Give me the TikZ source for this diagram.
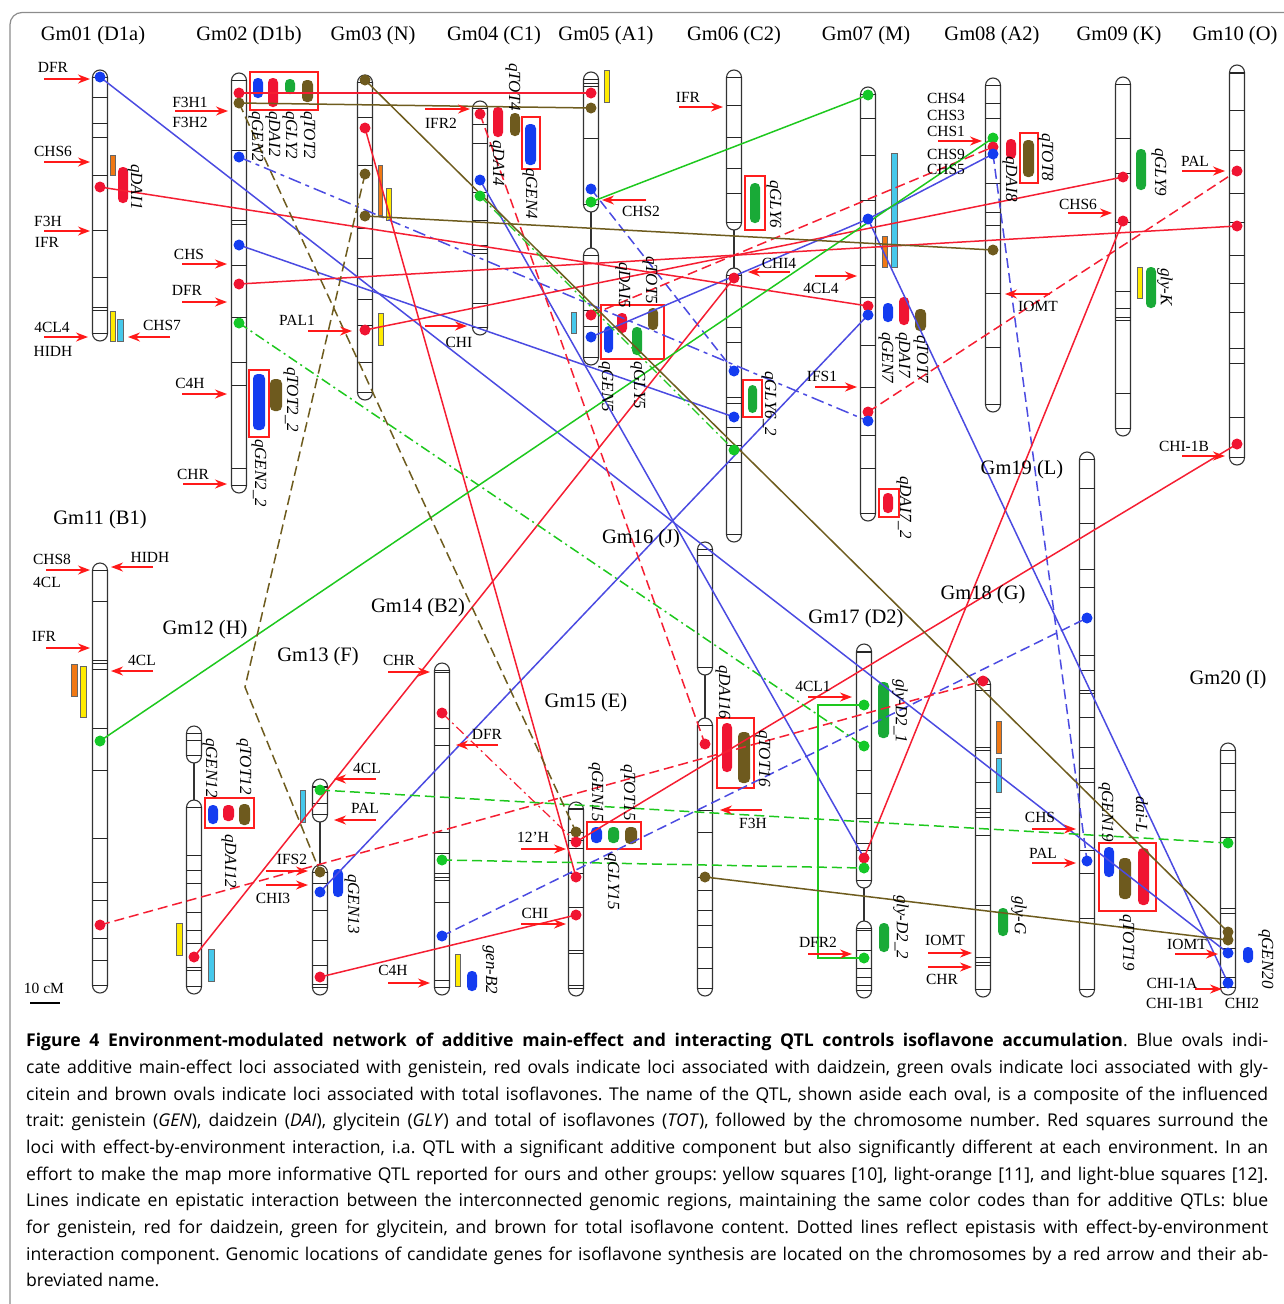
\documentclass[tikz,border=0pt]{standalone}
\usepackage{fontspec}
\setmainfont{Liberation Serif}
\newfontfamily\capfont{Open Sans}
\usetikzlibrary{arrows.meta}
\pgfdeclarelayer{chrl}
\pgfdeclarelayer{linel}
\pgfsetlayers{chrl,linel,main}
\definecolor{cblue}{RGB}{20,60,240}
\definecolor{cred}{RGB}{240,20,50}
\definecolor{cgreen}{RGB}{20,200,40}
\definecolor{ogreen}{RGB}{25,170,55}
\definecolor{cbrown}{RGB}{110,90,30}
\definecolor{lblue}{RGB}{75,75,225}
\definecolor{lred}{RGB}{245,30,50}
\definecolor{lgreen}{RGB}{30,200,30}
\definecolor{lbrown}{RGB}{110,92,30}
\definecolor{cyel}{RGB}{255,235,0}
\definecolor{corange}{RGB}{240,120,20}
\definecolor{ccyan}{RGB}{70,200,235}
\definecolor{arrred}{RGB}{255,25,25}
\definecolor{boxred}{RGB}{255,30,30}
\tikzset{
 chrline/.style={draw=black!80, line width=1.1pt, fill=white},
 tickl/.style={draw=black!85, line width=1pt},
 dot/.style={circle, inner sep=0pt, minimum size=11pt, draw=none},
 dB/.style={dot, fill=cblue}, dR/.style={dot, fill=cred},
 dG/.style={dot, fill=cgreen}, dN/.style={dot, fill=cbrown},
 conn/.style={line width=1.5pt},
 lB/.style={conn, draw=lblue}, lR/.style={conn, draw=lred},
 lG/.style={conn, draw=lgreen}, lN/.style={conn, draw=lbrown},
 dsh/.style={dash pattern=on 10pt off 5pt},
 dlong/.style={dash pattern=on 13pt off 5pt on 4pt off 5pt},
 ddot/.style={dash pattern=on 10pt off 4pt on 2pt off 4pt},
 garrow/.style={draw=arrred, line width=1.6pt, -{Stealth[length=12pt,width=9pt]}},
 glabel/.style={font=\fontsize{15.5}{15.5}\selectfont, inner sep=0pt},
 ttl/.style={font=\fontsize{20.5}{20.5}\selectfont, inner sep=0pt},
 qlabel/.style={font=\itshape\fontsize{17}{17}\selectfont, rotate=-90, anchor=west, inner sep=0pt},
 qbox/.style={draw=boxred, line width=2pt},
 litbar/.style={draw=black!60, line width=0.8pt},
}
\newcounter{lc}
\newcounter{ac}
\newcommand\chrbar[4]{%
  \draw[chrline, rounded corners=7.5pt] (#1-7.5,#2) rectangle (#1+7.5,#3);
  \draw[tickl] (#1-7.5,#2+7.5) -- (#1+7.5,#2+7.5);
  \draw[tickl] (#1-7.5,#3-7.5) -- (#1+7.5,#3-7.5);
  \foreach \t in {#4} {\draw[tickl] (#1-7.5,\t) -- (#1+7.5,\t);}
}
\newcommand\chrlink[3]{\draw[black!80, line width=1.1pt] (#1,#2) -- (#1,#3);}
\newcommand\qo[5]{\fill[#1, rounded corners=4.5pt] (#2,#3) rectangle (#4,#5);}
\newcommand\lbar[5]{\draw[litbar, fill=#1] (#2,#3) rectangle (#4,#5);}
\newcommand\rbox[4]{\draw[qbox] (#1,#2) rectangle (#3,#4);}
\newcommand\glab[3]{\stepcounter{lc}\node[glabel] (g\thelc) at (#1,#2) {#3};}
\newcommand\qlab[3]{\stepcounter{lc}\node[qlabel] (q\thelc) at (#1,#2) {#3};}
\newcommand\garr[3]{\stepcounter{ac}\coordinate (as\theac) at (#1,#2);\coordinate (ae\theac) at (#3,#2);\draw[garrow] (as\theac) -- (ae\theac);}
\begin{document}
\begin{tikzpicture}[x=1pt,y=-1pt]
\useasboundingbox (0,0) rectangle (1284,1304);
\begin{scope}
\clip (0,0) rectangle (1284,1304);
\draw[draw=black!45, line width=1.2pt, rounded corners=12pt] (10,12.5) rectangle (1320,1330);
\end{scope}

% ---------------- chromosomes, QTL ovals, boxes, bars ----------------
\begin{pgfonlayer}{chrl}
\chrbar{100}{70}{341}{97,123,137,175,230,277,307,310}
\chrbar{239}{73}{493}{150,220,224,265,317,362,385,468}
\chrbar{365}{75}{400}{117,165,228,258,299,325,362}
\chrbar{480}{101}{335}{124,143,192,220,245,249,253,303}
\chrbar{591}{72}{212}{79,83,86,138}
\chrlink{591}{212}{248}
\chrbar{591}{248}{365}{310,326}
\chrbar{734}{70}{230}{105,137,168,193,222}
\chrlink{734}{230}{268}
\chrbar{734}{268}{542}{327,342,397,403,427,445,462}
\chrbar{868}{87}{521}{118,155,200,265,297,345,387,435,468}
\chrbar{993}{78}{412}{103,118,183,212,225,293,347}
\chrbar{1123}{77}{436}{138,173,222,291,308,317,320,393}
\chrbar{1237}{65}{465}{73,110,150,193,222,255,283,312,348,363,417}
\chrbar{100}{563}{993}{601,660,663,669,728,770,838,882,900,938,960}
\chrbar{194}{726}{763}{740}
\chrlink{194}{763}{800}
\chrbar{194}{800}{994}{855,870,883,912,930,943,967,970}
\chrbar{320}{779}{822}{787,803}
\chrlink{320}{822}{865}
\chrbar{320}{865}{995}{883,910,940,965,984}
\chrbar{442}{663}{995}{672,728,745,832,853,873,877,880,902,980}
\chrbar{576}{802}{996}{808,832,840,848,873,907,950,953,985}
\chrbar{705}{542}{675}{555}
\chrlink{705}{675}{718}
\chrbar{705}{718}{996}{810,832,877,890,910,925,947,968}
\chrbar{864}{644}{888}{652,770,793,818,843,850}
\chrlink{864}{888}{921}
\chrbar{864}{921}{998}{930,950,968,977,985}
\chrbar{983}{677}{997}{690,747,750,782,808,812,817,835,905,957,962,965}
\chrbar{1087}{452}{997}{488,523,569,587,655,670,690,693,717,747,768,782,850,873,918}
\chrbar{1228}{743}{995}{763,790,812,837,908,913,948,977}
% literature bars
\lbar{corange}{110}{155}{115}{175}
\lbar{cyel}{110}{311}{115}{341}
\lbar{ccyan}{117}{319}{123}{341}
\lbar{corange}{378}{165}{382}{215}
\lbar{cyel}{386}{188}{391}{220}
\lbar{cyel}{378}{313}{383}{345}
\lbar{cyel}{604}{70}{609}{102}
\lbar{ccyan}{571}{312}{576}{333}
\lbar{ccyan}{891}{153}{897}{267}
\lbar{corange}{882}{236}{887}{267}
\lbar{cyel}{1137}{267}{1142}{298}
\lbar{corange}{71}{664}{77}{696}
\lbar{cyel}{80}{666}{86}{717}
\lbar{cyel}{176}{923}{182}{955}
\lbar{ccyan}{208}{949}{214}{981}
\lbar{ccyan}{300}{790}{305}{822}
\lbar{cyel}{455}{954}{460}{986}
\lbar{corange}{996}{721}{1001}{753}
\lbar{ccyan}{996}{758}{1001}{792}
% QTL ovals
\qo{cred}{118}{167}{128}{203}
\qo{cblue}{253}{78}{263}{98}
\qo{cred}{268}{78}{278}{107}
\qo{ogreen}{285}{79}{295}{94}
\qo{cbrown}{302}{80}{313}{102}
\rbox{250}{72}{318}{110}
\qo{cblue}{253}{374}{265}{430}
\qo{cbrown}{270}{379}{282}{411}
\rbox{249}{370}{269}{437}
\qo{cred}{493}{107}{503}{137}
\qo{cbrown}{510}{113}{520}{136}
\qo{cblue}{525}{124}{536}{165}
\rbox{522}{117}{540}{169}
\qo{cblue}{604}{326}{613}{353}
\qo{cred}{617}{313}{627}{333}
\qo{ogreen}{632}{327}{642}{355}
\qo{cbrown}{648}{308}{658}{330}
\rbox{601}{305}{664}{359}
\qo{ogreen}{750}{183}{760}{223}
\rbox{745}{176}{765}{230}
\qo{ogreen}{748}{385}{757}{413}
\rbox{743}{380}{762}{417}
\qo{cblue}{883}{303}{893}{322}
\qo{cred}{899}{297}{909}{325}
\qo{cbrown}{915}{309}{926}{331}
\qo{cred}{883}{493}{893}{513}
\rbox{879}{489}{899}{517}
\qo{cred}{1006}{139}{1016}{159}
\qo{cbrown}{1023}{140}{1034}{177}
\rbox{1020}{133}{1038}{183}
\qo{ogreen}{1136}{149}{1146}{190}
\qo{ogreen}{1146}{267}{1156}{308}
\qo{cblue}{208}{805}{218}{824}
\qo{cred}{223}{805}{234}{821}
\qo{cbrown}{239}{804}{250}{825}
\rbox{205}{798}{254}{828}
\qo{cblue}{333}{869}{343}{897}
\qo{cblue}{467}{971}{477}{991}
\qo{cblue}{591}{827}{602}{843}
\qo{ogreen}{608}{827}{619}{843}
\qo{cbrown}{625}{827}{637}{844}
\rbox{587}{822}{641}{849}
\qo{cred}{722}{723}{732}{772}
\qo{cbrown}{738}{732}{750}{783}
\rbox{717}{718}{754}{788}
\qo{ogreen}{878}{682}{889}{738}
\qo{ogreen}{879}{923}{889}{952}
\qo{ogreen}{998}{908}{1008}{936}
\qo{cblue}{1104}{847}{1114}{877}
\qo{cbrown}{1119}{858}{1131}{899}
\qo{cred}{1138}{848}{1149}{905}
\rbox{1099}{843}{1156}{911}
\qo{cblue}{1243}{947}{1253}{963}
\end{pgfonlayer}

% ---------------- dots ----------------
\node[dB] (d01b1) at (100,77) {};
\node[dR] (d01r1) at (100,187) {};
\node[dR] (d02r1) at (239,93) {};
\node[dN] (d02n1) at (239,103) {};
\node[dB] (d02b1) at (239,157) {};
\node[dB] (d02b2) at (239,245) {};
\node[dR] (d02r2) at (239,284) {};
\node[dG] (d02g1) at (239,323) {};
\node[dN] (d03n1) at (365,80) {};
\node[dR] (d03r1) at (365,128) {};
\node[dN] (d03n2) at (365,174) {};
\node[dN] (d03n3) at (365,216) {};
\node[dR] (d03r2) at (365,330) {};
\node[dR] (d04r1) at (480,114) {};
\node[dB] (d04b1) at (480,180) {};
\node[dG] (d04g1) at (480,196) {};
\node[dR] (d05r1) at (591,93) {};
\node[dN] (d05n1) at (591,108) {};
\node[dB] (d05b1) at (591,189) {};
\node[dG] (d05g1) at (591,202) {};
\node[dR] (d05r2) at (591,315) {};
\node[dB] (d05b2) at (591,337) {};
\node[dR] (d06r1) at (734,278) {};
\node[dB] (d06b1) at (734,371) {};
\node[dB] (d06b2) at (734,417) {};
\node[dG] (d06g1) at (734,450) {};
\node[dG] (d07g1) at (868,95) {};
\node[dB] (d07b1) at (868,219) {};
\node[dR] (d07r1) at (868,306) {};
\node[dB] (d07b2) at (868,315) {};
\node[dR] (d07r2) at (868,412) {};
\node[dB] (d07b3) at (868,421) {};
\node[dG] (d08g1) at (993,138) {};
\node[dR] (d08r1) at (993,147) {};
\node[dB] (d08b1) at (993,154) {};
\node[dN] (d08n1) at (993,250) {};
\node[dR] (d09r1) at (1123,177) {};
\node[dR] (d09r2) at (1123,221) {};
\node[dR] (d10r1) at (1237,171) {};
\node[dR] (d10r2) at (1237,226) {};
\node[dR] (d10r3) at (1237,444) {};
\node[dG] (d11g1) at (100,741) {};
\node[dR] (d11r1) at (100,925) {};
\node[dR] (d12r1) at (194,957) {};
\node[dG] (d13g1) at (320,790) {};
\node[dN] (d13n1) at (320,872) {};
\node[dB] (d13b1) at (320,892) {};
\node[dR] (d13r1) at (320,977) {};
\node[dR] (d14r1) at (442,713) {};
\node[dG] (d14g1) at (442,860) {};
\node[dB] (d14b1) at (442,936) {};
\node[dN] (d15n1) at (576,832) {};
\node[dR] (d15r1) at (576,842) {};
\node[dR] (d15r2) at (576,877) {};
\node[dR] (d15r3) at (576,915) {};
\node[dR] (d16r1) at (705,744) {};
\node[dN] (d16n1) at (705,877) {};
\node[dG] (d17g1) at (864,705) {};
\node[dG] (d17g2) at (864,746) {};
\node[dR] (d17r1) at (864,858) {};
\node[dG] (d17g3) at (864,868) {};
\node[dG] (d17g4) at (864,958) {};
\node[dR] (d18r1) at (983,681) {};
\node[dB] (d19b1) at (1087,618) {};
\node[dB] (d19b2) at (1087,861) {};
\node[dG] (d20g1) at (1228,843) {};
\node[dN] (d20n1) at (1228,932) {};
\node[dN] (d20n2) at (1228,940) {};
\node[dB] (d20b1) at (1228,953) {};
\node[dB] (d20b2) at (1228,983) {};
\coordinate (kink) at (245,687);
\coordinate (brk1) at (818,705);
\coordinate (brk2) at (818,958);

% ---------------- interaction lines ----------------
\begin{pgfonlayer}{linel}
% blue
\draw[lB] (d01b1.center) -- (d20b1.center);
\draw[lB] (d02b2.center) -- (d06b2.center);
\draw[lB] (d04b1.center) -- (d17r1.center);
\draw[lB] (d05b2.center) -- (d07b1.center);
\draw[lB] (d07b1.center) -- (d08b1.center);
\draw[lB] (d07b1.center) -- (d20b2.center);
\draw[lB] (d13b1.center) -- (d07b2.center);
\draw[lB,dlong] (d02b1.center) -- (d07b3.center);
\draw[lB,dsh] (d05b1.center) -- (d06b1.center);
\draw[lB,dsh] (d08b1.center) -- (d19b2.center);
\draw[lB,dsh] (d14b1.center) -- (d19b1.center);
% red
\draw[lR] (d01r1.center) -- (d07r1.center);
\draw[lR] (d02r1.center) -- (d05r1.center);
\draw[lR] (d02r2.center) -- (d10r2.center);
\draw[lR] (d03r1.center) -- (d15r2.center);
\draw[lR] (d03r2.center) -- (d09r1.center);
\draw[lR] (d06r1.center) -- (d12r1.center);
\draw[lR] (d09r2.center) -- (d17r1.center);
\draw[lR] (d10r3.center) -- (d15r1.center);
\draw[lR] (d13r1.center) -- (d15r3.center);
\draw[lR,dsh] (d04r1.center) -- (d16r1.center);
\draw[lR,dsh] (d05r2.center) -- (d08r1.center);
\draw[lR,dsh] (d07r2.center) -- (d10r1.center);
\draw[lR,dsh] (d11r1.center) -- (d18r1.center);
\draw[lR,ddot,line width=1.2pt] (d14r1.center) -- (d15r1.center);
% green
\draw[lG] (d07g1.center) -- (d05g1.center);
\draw[lG] (d08g1.center) -- (d11g1.center);
\draw[lG] (d17g1.center) -- (brk1) -- (brk2) -- (d17g4.center);
\draw[lG,ddot] (d02g1.center) -- (d17g2.center);
\draw[lG,ddot,line width=1.2pt] (d04g1.center) -- (d06g1.center);
\draw[lG,dsh] (d13g1.center) -- (d20g1.center);
\draw[lG,dsh] (d14g1.center) -- (d17g3.center);
% brown
\draw[lN] (d02n1.center) -- (d05n1.center);
\draw[lN] (d03n1.center) -- (d20n1.center);
\draw[lN] (d03n3.center) -- (d08n1.center);
\draw[lN] (d16n1.center) -- (d20n2.center);
\draw[lN,dsh] (d02n1.center) -- (d15n1.center);
\draw[lN,dsh] (d03n2.center) -- (kink) -- (d13n1.center);
\end{pgfonlayer}

% ---------------- titles ----------------
\node[ttl] (t01) at (93,36) {Gm01 (D1a)};
\node[ttl] (t02) at (249,36) {Gm02 (D1b)};
\node[ttl] (t03) at (373,36) {Gm03 (N)};
\node[ttl] (t04) at (494,36) {Gm04 (C1)};
\node[ttl] (t05) at (606,36) {Gm05 (A1)};
\node[ttl] (t06) at (734,36) {Gm06 (C2)};
\node[ttl] (t07) at (866,36) {Gm07 (M)};
\node[ttl] (t08) at (992,36) {Gm08 (A2)};
\node[ttl] (t09) at (1119,36) {Gm09 (K)};
\node[ttl] (t10) at (1235,36) {Gm10 (O)};
\node[ttl] (t11) at (100,520) {Gm11 (B1)};
\node[ttl] (t12) at (205,630) {Gm12 (H)};
\node[ttl] (t13) at (318,657) {Gm13 (F)};
\node[ttl] (t14) at (418,608) {Gm14 (B2)};
\node[ttl] (t15) at (586,703) {Gm15 (E)};
\node[ttl] (t16) at (641,539) {Gm16 (J)};
\node[ttl] (t17) at (856,619) {Gm17 (D2)};
\node[ttl] (t18) at (983,595) {Gm18 (G)};
\node[ttl] (t19) at (1022,470) {Gm19 (L)};
\node[ttl] (t20) at (1228,680) {Gm20 (I)};

% ---------------- QTL labels ----------------
\qlab{135}{164}{qDAI1}
\qlab{256}{111}{qGEN2}
\qlab{273}{111}{qDAI2}
\qlab{290}{111}{qGLY2}
\qlab{308}{111}{qTOT2}
\qlab{291}{367}{qTOT2\_2}
\qlab{259}{439}{qGEN2\_2}
\qlab{513}{63}{qTOT4}
\qlab{497}{140}{qDAI4}
\qlab{530}{168}{qGEN4}
\qlab{623}{262}{qDAI5}
\qlab{650}{256}{qTOT5}
\qlab{606}{361}{qGEN5}
\qlab{638}{361}{qGLY5}
\qlab{774}{180}{qGLY6}
\qlab{769}{371}{qGLY6\_2}
\qlab{886}{332}{qGEN7}
\qlab{903}{332}{qDAI7}
\qlab{921}{335}{qTOT7}
\qlab{904}{476}{qDAI7\_2}
\qlab{1046}{133}{qTOT8}
\qlab{1010}{156}{qDAI8}
\qlab{1159}{148}{qGLY9}
\qlab{1165}{268}{gly-K}
\qlab{210}{738}{qGEN12}
\qlab{244}{738}{qTOT12}
\qlab{229}{834}{qDAI12}
\qlab{352}{874}{qGEN13}
\qlab{490}{945}{gen-B2}
\qlab{596}{762}{qGEN15}
\qlab{628}{764}{qTOT15}
\qlab{612}{853}{qGLY15}
\qlab{723}{665}{qDAI16}
\qlab{763}{730}{qTOT16}
\qlab{900}{679}{gly-D2\_1}
\qlab{901}{895}{gly-D2\_2}
\qlab{1019}{896}{gly-G}
\qlab{1106}{782}{qGEN19}
\qlab{1142}{796}{dai-L}
\qlab{1127}{914}{qTOT19}
\qlab{1266}{929}{qGEN20}

% ---------------- gene labels and arrows ----------------
\glab{53}{67}{DFR}\garr{44}{79}{90}
\glab{53}{151}{CHS6}\garr{44}{162}{90}
\glab{48}{221}{F3H}\glab{47}{242}{IFR}\garr{44}{231}{90}
\glab{52}{327}{4CL4}\glab{53}{351}{HIDH}\garr{44}{337}{88}
\glab{162}{325}{CHS7}\garr{170}{337}{128}
\glab{190}{102}{F3H1}\glab{190}{122}{F3H2}\garr{175}{111}{228}
\glab{189}{254}{CHS}\garr{182}{264}{227}
\glab{187}{290}{DFR}\garr{182}{302}{227}
\glab{190}{383}{C4H}\garr{182}{394}{227}
\glab{193}{474}{CHR}\garr{183}{484}{227}
\glab{297}{320}{PAL1}\garr{308}{331}{352}
\glab{441}{123}{IFR2}\garr{425}{109}{470}
\glab{459}{342}{CHI}\garr{425}{326}{467}
\glab{641}{211}{CHS2}\garr{646}{200}{602}
\glab{688}{97}{IFR}\garr{679}{107}{723}
\glab{779}{263}{CHI4}\garr{790}{272}{748}
\glab{821}{288}{4CL4}\garr{815}{276}{857}
\glab{822}{376}{IFS1}\garr{815}{387}{857}
\glab{946}{98}{CHS4}\glab{946}{115}{CHS3}\glab{946}{131}{CHS1}\garr{938}{141}{982}
\glab{946}{154}{CHS9}\glab{946}{169}{CHS5}
\glab{1038}{306}{IOMT}\garr{1050}{294}{1005}
\glab{1078}{204}{CHS6}\garr{1068}{213}{1112}
\glab{1195}{161}{PAL}\garr{1182}{171}{1225}
\glab{1184}{446}{CHI-1B}\garr{1182}{456}{1225}
\glab{52}{559}{CHS8}\glab{47}{582}{4CL}\garr{46}{570}{90}
\glab{150}{557}{HIDH}\garr{153}{567}{111}
\glab{44}{636}{IFR}\garr{46}{648}{90}
\glab{142}{660}{4CL}\garr{153}{671}{111}
\glab{367}{768}{4CL}\garr{376}{779}{334}
\glab{365}{808}{PAL}\garr{376}{820}{334}
\glab{292}{859}{IFS2}\garr{266}{871}{308}
\glab{273}{898}{CHI3}\garr{266}{885}{308}
\glab{399}{660}{CHR}\garr{388}{672}{430}
\glab{487}{734}{DFR}\garr{498}{745}{456}
\glab{393}{970}{C4H}\garr{388}{983}{430}
\glab{533}{837}{12'H}\garr{521}{849}{566}
\glab{535}{913}{CHI}\garr{521}{924}{566}
\glab{753}{823}{F3H}\garr{762}{810}{720}
\glab{813}{686}{4CL1}\garr{808}{697}{852}
\glab{818}{942}{DFR2}\garr{808}{954}{852}
\glab{945}{940}{IOMT}\garr{928}{953}{972}
\glab{942}{979}{CHR}\garr{928}{967}{972}
\glab{1040}{817}{CHS}\garr{1032}{829}{1076}
\glab{1043}{853}{PAL}\garr{1032}{863}{1076}
\glab{1187}{944}{IOMT}\garr{1175}{954}{1218}
\glab{1172}{983}{CHI-1A}\garr{1195}{989}{1222}
\glab{1175}{1003}{CHI-1B1}
\glab{1242}{1003}{CHI2}

% scale bar
\glab{44}{988}{10 cM}
\coordinate (sb1) at (30,1003);
\coordinate (sb2) at (60,1003);
\draw[line width=2pt] (sb1) -- (sb2);

% ---------------- caption ----------------
\node[anchor=north west, inner sep=0pt, text width=1242pt, align=justify,
      font=\capfont\fontsize{17.6}{26.7}\selectfont] (cap) at (26,1033) {\frenchspacing
\textbf{Figure 4 Environment-modulated network of additive main-effect and interacting QTL controls isoflavone accumulation}. Blue ovals indi-\linebreak
cate additive main-effect loci associated with genistein, red ovals indicate loci associated with daidzein, green ovals indicate loci associated with gly-\linebreak
citein and brown ovals indicate loci associated with total isoflavones. The name of the QTL, shown aside each oval, is a composite of the influenced\linebreak
trait: genistein (\textit{GEN}), daidzein (\textit{DAI}), glycitein (\textit{GLY}) and total of isoflavones (\textit{TOT}), followed by the chromosome number. Red squares surround the\linebreak
loci with effect-by-environment interaction, i.a. QTL with a significant additive component but also significantly different at each environment. In an\linebreak
effort to make the map more informative QTL reported for ours and other groups: yellow squares [10], light-orange [11], and light-blue squares [12].\linebreak
Lines indicate en epistatic interaction between the interconnected genomic regions, maintaining the same color codes than for additive QTLs: blue\linebreak
for genistein, red for daidzein, green for glycitein, and brown for total isoflavone content. Dotted lines reflect epistasis with effect-by-environment\linebreak
interaction component. Genomic locations of candidate genes for isoflavone synthesis are located on the chromosomes by a red arrow and their ab-\linebreak
breviated name.};
\end{tikzpicture}
\end{document}
